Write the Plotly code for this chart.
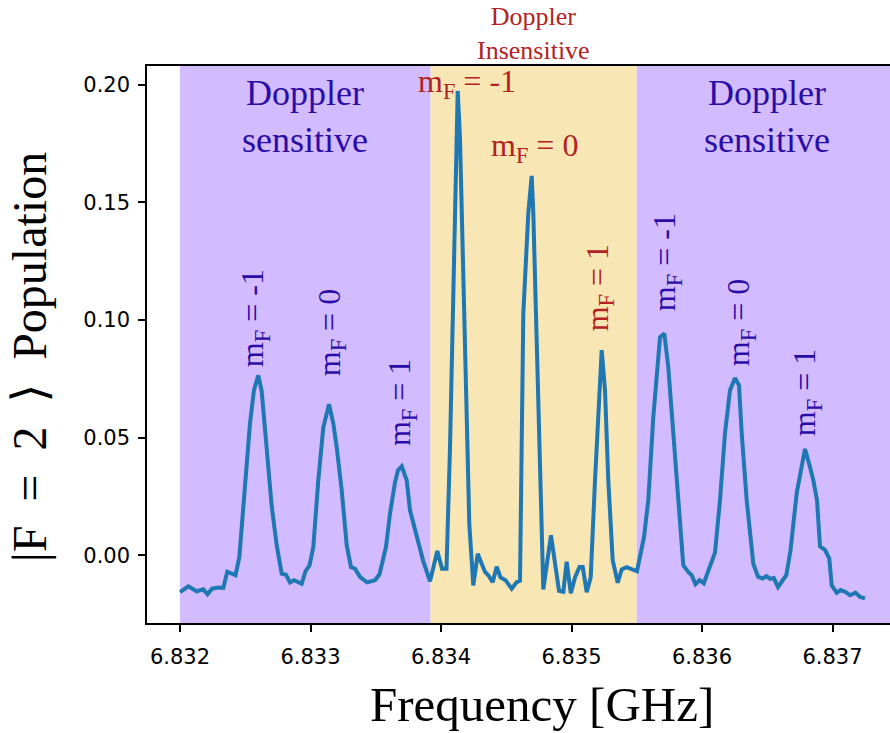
import plotly.graph_objects as go

# Frequency (GHz) and |F=2> population
freq_ghz = [
    6.8320000, 6.8320636, 6.8321280, 6.8321785, 6.8322107, 6.8322452, 6.8322935, 6.8323318,
    6.8323625, 6.8324253, 6.8324544, 6.8324981, 6.8325364, 6.8325670, 6.8326000, 6.8326261,
    6.8326644, 6.8327027, 6.8327410, 6.8327793, 6.8328123, 6.8328429, 6.8328736, 6.8329326,
    6.8329617, 6.8329923, 6.8330215, 6.8330598, 6.8330981, 6.8331418, 6.8331747, 6.8332008,
    6.8332391, 6.8332774, 6.8333103, 6.8333410, 6.8333793, 6.8334330, 6.8334943, 6.8335287,
    6.8335785, 6.8336092, 6.8336475, 6.8336705, 6.8336989, 6.8337372, 6.8337625, 6.8338138,
    6.8338644, 6.8339157, 6.8339716, 6.8340077, 6.8340421, 6.8340690, 6.8340943, 6.8341280,
    6.8341456, 6.8341709, 6.8341969, 6.8342169, 6.8342475, 6.8342812, 6.8343372, 6.8343625,
    6.8343962, 6.8344268, 6.8344559, 6.8344943, 6.8345418, 6.8345801, 6.8346054, 6.8346307,
    6.8346690, 6.8346950, 6.8347073, 6.8347333, 6.8347586, 6.8347839, 6.8348429, 6.8348736,
    6.8349042, 6.8349372, 6.8349632, 6.8349946, 6.8350268, 6.8350613, 6.8350858, 6.8351165,
    6.8351471, 6.8351801, 6.8352054, 6.8352314, 6.8352567, 6.8352820, 6.8353157, 6.8353540,
    6.8353847, 6.8354230, 6.8355019, 6.8355556, 6.8355885, 6.8356268, 6.8356782, 6.8357111,
    6.8357418, 6.8357801, 6.8358184, 6.8358567, 6.8358950, 6.8359211, 6.8359502, 6.8359808,
    6.8360138, 6.8360613, 6.8360996, 6.8361379, 6.8361762, 6.8362146, 6.8362529, 6.8362835,
    6.8363042, 6.8363425, 6.8363931, 6.8364291, 6.8364636, 6.8364943, 6.8365211, 6.8365502,
    6.8365824, 6.8366460, 6.8366782, 6.8367257, 6.8367563, 6.8367893, 6.8368276, 6.8368529,
    6.8368812, 6.8369042, 6.8369425, 6.8369755, 6.8369939, 6.8370322, 6.8370628, 6.8370996,
    6.8371341, 6.8371762, 6.8372107, 6.8372490,
]
population = [
    -0.0157, -0.0132, -0.0153, -0.0145, -0.0166, -0.0142, -0.0137, -0.0139,
    -0.0070, -0.0085, -0.0009, 0.0319, 0.0561, 0.0702, 0.0765, 0.0697,
    0.0463, 0.0208, 0.0043, -0.0078, -0.0083, -0.0116, -0.0106, -0.0121,
    -0.0068, -0.0043, 0.0035, 0.0319, 0.0544, 0.0642, 0.0561, 0.0459,
    0.0276, 0.0043, -0.0051, -0.0057, -0.0092, -0.0115, -0.0106, -0.0081,
    0.0035, 0.0177, 0.0310, 0.0361, 0.0378, 0.0319, 0.0191, 0.0077,
    -0.0026, -0.0111, 0.0018, -0.0057, -0.0057, 0.0459, 0.1169, 0.1974,
    0.1773, 0.1169, 0.0604, 0.0132, -0.0128, 0.0006, -0.0071, -0.0085,
    -0.0115, -0.0049, -0.0094, -0.0106, -0.0142, -0.0114, -0.0108, 0.1029,
    0.1454, 0.1613, 0.1454, 0.0884, 0.0319, -0.0145, 0.0085, -0.0050,
    -0.0151, -0.0155, -0.0028, -0.0162, -0.0094, -0.0050, -0.0050, -0.0157,
    -0.0094, 0.0319, 0.0604, 0.0872, 0.0702, 0.0319, -0.0021, -0.0117,
    -0.0060, -0.0051, -0.0068, 0.0078, 0.0234, 0.0587, 0.0927, 0.0943,
    0.0799, 0.0519, 0.0234, -0.0043, -0.0071, -0.0085, -0.0123, -0.0106,
    -0.0119, -0.0050, 0.0011, 0.0234, 0.0519, 0.0702, 0.0754, 0.0723,
    0.0519, 0.0234, -0.0036, -0.0091, -0.0099, -0.0089, -0.0100, -0.0097,
    -0.0135, -0.0085, 0.0021, 0.0264, 0.0361, 0.0452, 0.0375, 0.0319,
    0.0234, 0.0038, 0.0023, -0.0014, -0.0128, -0.0159, -0.0148, -0.0156,
    -0.0170, -0.0159, -0.0177, -0.0183,
]

# Shaded regions (GHz)
sensitive_left = [6.8320, 6.83392]
insensitive = [6.83392, 6.83550]
sensitive_right = [6.83550, 6.83760]

x_range = [6.8317471, 6.8374406]
y_range = [-0.0288, 0.2080]
x_ticks = [6.832, 6.833, 6.834, 6.835, 6.836, 6.837]
y_ticks = [0.00, 0.05, 0.10, 0.15, 0.20]

# m_F labels: (text, x, y, colour, angle)
BLUE = "#2a0ca6"
RED = "#b22222"
mf_labels = [
    ("m<sub>F</sub> = -1", 6.834199, 0.2007, RED, 0),
    ("m<sub>F</sub> = 0", 6.834720, 0.1735, RED, 0),
    ("m<sub>F</sub> = 1", 6.835211, 0.1135, RED, -90),
    ("m<sub>F</sub> = -1", 6.832567, 0.1008, BLUE, -90),
    ("m<sub>F</sub> = 0", 6.833157, 0.0948, BLUE, -90),
    ("m<sub>F</sub> = 1", 6.833693, 0.0651, BLUE, -90),
    ("m<sub>F</sub> = -1", 6.835724, 0.1246, BLUE, -90),
    ("m<sub>F</sub> = 0", 6.836291, 0.0991, BLUE, -90),
    ("m<sub>F</sub> = 1", 6.836797, 0.0689, BLUE, -90),
]

SERIF = "Liberation Serif, DejaVu Serif, serif"
NB = "\u00a0"
y_title = f"|F{NB}{NB}={NB}{NB}2{NB}{NB}\u27e9{NB}{NB}Population"

fig = go.Figure()
fig.add_trace(go.Scatter(x=freq_ghz, y=population, mode="lines",
                         line=dict(color="#1f77b4", width=4), showlegend=False))

for (x0, x1), col in [(sensitive_left, "#d3bbff"), (insensitive, "#f8e6b5"), (sensitive_right, "#d3bbff")]:
    fig.add_shape(type="rect", xref="x", yref="paper", x0=x0, x1=x1, y0=0, y1=1,
                  fillcolor=col, line=dict(width=0), layer="below")

ann = []
for text, x, y, col, ang in mf_labels:
    ann.append(dict(text=text, x=x, y=y, xref="x", yref="y", showarrow=False,
                    textangle=ang, font=dict(family=SERIF, size=32, color=col),
                    xanchor="center", yanchor="middle"))
for xc in [sum(sensitive_left) / 2, 6.8365]:
    ann.append(dict(text="Doppler<br>sensitive", x=xc, y=0.9093, xref="x", yref="paper",
                    xanchor="center", yanchor="middle", showarrow=False,
                    font=dict(family=SERIF, size=36, color=BLUE)))
ann.append(dict(text="Doppler<br>Insensitive", x=sum(insensitive) / 2, y=1.058, xref="x", yref="paper",
                xanchor="center", yanchor="middle", showarrow=False,
                font=dict(family=SERIF, size=26, color=RED)))
ann.append(dict(text="Frequency [GHz]", x=0.5316, y=-0.147, xref="paper", yref="paper",
                xanchor="center", yanchor="middle", showarrow=False,
                font=dict(family=SERIF, size=49, color="black")))
ann.append(dict(text=y_title, x=-0.1575, y=0.4776,
                xref="paper", yref="paper",
                xanchor="center", yanchor="middle", showarrow=False, textangle=-90,
                font=dict(family=SERIF, size=48, color="black")))

fig.update_layout(
    width=890, height=733,
    margin=dict(l=147, r=0, t=66, b=110),
    paper_bgcolor="white", plot_bgcolor="white",
    annotations=ann,
    xaxis=dict(range=x_range, tickvals=x_ticks, ticktext=[f"{v:.3f}" for v in x_ticks],
               showgrid=False, zeroline=False, showline=True, linecolor="black", linewidth=1.5,
               mirror=True, ticks="outside", ticklen=7, tickwidth=1.5, tickcolor="black",
               ticklabelstandoff=7,
               tickfont=dict(family="DejaVu Sans", size=21, color="black")),
    yaxis=dict(range=y_range, tickvals=y_ticks, ticktext=[f"{v:.2f}" for v in y_ticks],
               showgrid=False, zeroline=False, showline=True, linecolor="black", linewidth=1.5,
               mirror=False, ticks="outside", ticklen=7, tickwidth=1.5, tickcolor="black",
               ticklabelstandoff=4,
               tickfont=dict(family="DejaVu Sans", size=21, color="black")),
)

fig.write_html("out.html")
